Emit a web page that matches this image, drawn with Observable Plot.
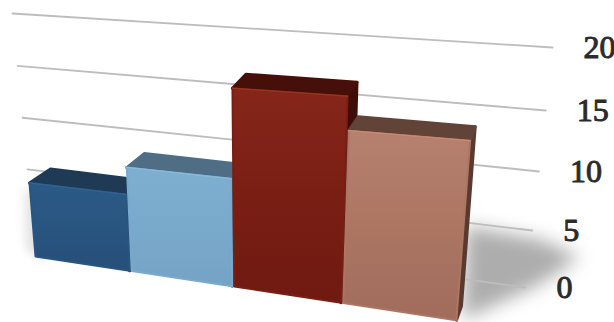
<!DOCTYPE html>
<html>
<head>
<meta charset="utf-8">
<style>html,body{margin:0;padding:0;background:#fff;overflow:hidden}svg{display:block}</style>
<script src="https://cdn.jsdelivr.net/npm/d3@7"></script>
<script src="https://cdn.jsdelivr.net/npm/@observablehq/plot@0.6"></script>
</head>
<body>
<script>
// Series
const categories = ["A", "B", "C", "D"];
const values = [6.5, 8.8, 16.2, 13.5];
const ticks = [0, 5, 10, 15, 20];

// Colours per bar: front gradient (top, middle, bottom), top face, side face, rim light
const frontTop = ["#2b5a86", "#7fafd0", "#86261a", "#b6816f"];
const frontMid = ["#295581", "#79a9cb", "#7a1e14", "#ac7663"];
const frontBot = ["#264f78", "#75a3c6", "#6f1a11", "#a06c5c"];
const topFace = ["#1e3a55", "#4f6e85", "#470f0a", "#624338"];
const sideFace = ["#1c3650", "#4a687e", "#3e0d08", "#5a3a30"];
const rimLight = ["#33628d", "#8bb8d6", "#9a3420", "#c68a75"];

// Perspective: the value wall at the back and the plane of the bar fronts
function wall(u, v) {
  const xL = 32 - v, xR = 525 + 1.35 * v;
  const yL = 220 - 10.2 * v - 0.0075 * v * v, yR = 287 - 11.2 * v - 0.04 * v * v;
  return {x: xL + (xR - xL) * u, y: yL + (yR - yL) * u};
}
function front(u, v) {
  const lean = -0.92 + 1.5 * u + 0.45 * u * u;
  return {x: 35 + 423 * u + lean * v, y: 256 + 64 * u - (11.3 + 2 * u) * v};
}
function back(u, v) {
  const p = front(u, v);
  return {x: p.x + 21 - 16 * u, y: p.y - 14};
}
// Bars widen slightly toward the viewer's side; a sliver of space separates neighbours
const edge = t => t + 0.12 * t * (t - 1);
const inset = 0.005;

const closed = pts => [...pts, pts[0]];
const face = (pts, fill, extra = {}) =>
  Plot.line(closed(pts), {x: "x", y: "y", fill, stroke: fill, strokeWidth: 3, strokeLinejoin: "round", curve: "linear", ...extra});

// Soft cast shadows, given in wall coordinates
const shadowMain = [[0.87, 4.7], [1.02, 4.3], [1.1, 3.2], [1.02, 0.2], [0.88, -3.7]].map(([u, v]) => wall(u, v));
const shadowLeft = [[-0.01, 3], [-0.02, -3], [0.02, -4], [0.02, 3]].map(([u, v]) => wall(u, v));

const defs = () => {
  const d = d3.create("svg:defs");
  categories.forEach((c, i) => {
    const g = d.append("linearGradient").attr("id", `front-${i}`).attr("x1", 0).attr("x2", 0).attr("y1", 0).attr("y2", 1);
    [[0, frontTop[i]], [0.5, frontMid[i]], [1, frontBot[i]]].forEach(([o, col]) =>
      g.append("stop").attr("offset", o).attr("stop-color", col));
  });
  return d.node();
};

const gridMarks = ticks.map(v =>
  Plot.line([wall(0, v), wall(1, v)], {x: "x", y: "y", stroke: "#bdbdbd", strokeWidth: 1.8}));

const tickLabels = Plot.text(ticks.map(v => ({...wall(1, v), v})), {
  x: "x", y: "y", text: d => String(d.v), dx: 31, textAnchor: "start",
  fontFamily: "Liberation Serif", fontSize: 32, fill: "#2b2b2b", stroke: "#2b2b2b", strokeWidth: 1
});

const barMarks = values.flatMap((v, i) => {
  const u0 = edge(i / 4), u1 = edge((i + 1) / 4) - inset;
  return [
    face([front(u1, v), back(u1, v), back(u1, 0), front(u1, 0)], sideFace[i]),
    face([front(u0, v), back(u0, v), back(u1, v), front(u1, v)], topFace[i]),
    face([front(u0, v), front(u1, v), front(u1, 0), front(u0, 0)], `url(#front-${i})`, {stroke: frontMid[i], strokeWidth: 2}),
    Plot.line([front(u0, v), front(u1, v)], {x: "x", y: "y", stroke: rimLight[i], strokeWidth: 1.5})
  ];
});

document.body.append(Plot.plot({
  width: 614,
  height: 322,
  margin: 0,
  x: {domain: [0, 614], range: [0, 614], axis: null},
  y: {domain: [0, 322], range: [0, 322], axis: null},
  marks: [
    defs,
    Plot.line(closed(shadowLeft), {x: "x", y: "y", fill: "#e4e4e4", stroke: "none", imageFilter: "blur(5px)"}),
    Plot.line(closed(shadowMain), {x: "x", y: "y", fill: "#adadad", stroke: "none", imageFilter: "blur(9px)"}),
    ...gridMarks,
    ...barMarks,
    tickLabels
  ]
}));
</script>
</body>
</html>
